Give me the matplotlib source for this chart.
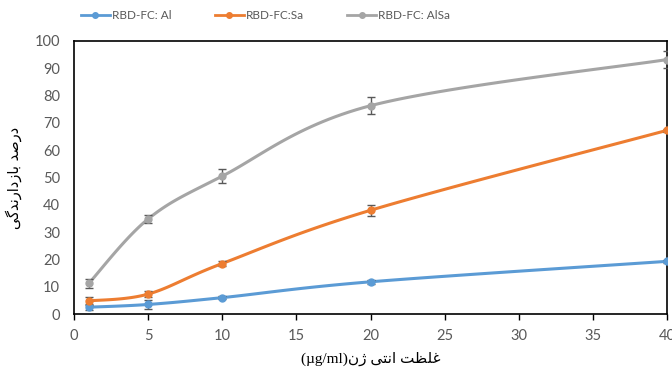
import numpy as np
import matplotlib as mpl
mpl.use('Agg')
import matplotlib.pyplot as plt
from matplotlib.lines import Line2D

plt.rcParams['font.family'] = ['Lato', 'DejaVu Sans']

#--------------------------------------------------------------------------------------------------------
# data

conc = [1, 5, 10, 20, 40]

al     = [2.5, 3.5, 6.0, 11.8, 19.3]
al_err = [1.0, 1.5, 0.5, 0.8, 0.5]

sa     = [4.8, 7.3, 18.5, 38.0, 67.3]
sa_err = [1.5, 1.2, 1.0, 2.0, 0.6]

alsa     = [11.2, 34.8, 50.5, 76.3, 93.2]
alsa_err = [1.5, 1.5, 2.5, 3.0, 3.0]

names = ["RBD-FC: Al", "RBD-FC:Sa", "RBD-FC: AlSa"]
colors = ["#5B9BD5", "#ED7D31", "#A5A5A5"]

# persian labels, written in presentation forms (visual order) since matplotlib has no shaping
ylab = "ﯽﮔﺪﻧﺭﺍﺩﺯﺎﺑ ﺪﺻﺭﺩ"
xlab = "(µg/ml)ﻥﮊ ﯽﺘﻧﺍ ﺖﻈﻠﻏ"

#--------------------------------------------------------------------------------------------------------

def smooth(x, y, sx=15.55, sy=2.73, n=30):
    # excel-like smoothed line: catmull-rom bezier in screen-ish units
    P = np.column_stack((np.asarray(x, float)*sx, np.asarray(y, float)*sy))
    P = np.vstack((P[0], P, P[-1]))
    out = []
    t = np.linspace(0, 1, n)[:, None]
    for i in range(1, len(P)-2):
        p0, p1, p2, p3 = P[i-1], P[i], P[i+1], P[i+2]
        c1 = p1 + (p2 - p0)/6.0
        c2 = p2 - (p3 - p1)/6.0
        seg = (1-t)**3*p1 + 3*(1-t)**2*t*c1 + 3*(1-t)*t**2*c2 + t**3*p2
        out.append(seg)
    out = np.vstack(out)
    return out[:, 0]/sx, out[:, 1]/sy

fig = plt.figure(figsize=(6.72, 3.69), dpi=100)
ax = fig.add_axes([0.110, 0.149, 0.883, 0.740])

series = [(al, al_err), (sa, sa_err), (alsa, alsa_err)]
for (vals, err), c in zip(series, colors):
    xs, ys = smooth(conc, vals)
    ax.plot(xs, ys, color=c, linewidth=2.2, solid_capstyle='round', zorder=2)
    ax.errorbar(conc, vals, yerr=err, fmt='none', ecolor='#595959', elinewidth=1.0,
                capsize=3, capthick=1.0, zorder=3)
    ax.plot(conc, vals, 'o', color=c, markersize=5, zorder=4)

ax.set_xlim(0, 40)
ax.set_ylim(0, 100)
ax.set_xticks(np.arange(0, 41, 5))
ax.set_yticks(np.arange(0, 101, 10))
for s in ax.spines.values():
    s.set_color('black')
    s.set_linewidth(1.2)
ax.tick_params(axis='y', length=0, pad=10, labelsize=10.5, labelcolor='#595959')
ax.tick_params(axis='x', length=4, width=1.0, direction='out', pad=7, labelsize=10.5, labelcolor='#595959')

ax.set_ylabel(ylab, family=['DejaVu Sans'], fontsize=10.5, labelpad=9)
ax.set_xlabel(xlab, family=['Liberation Serif', 'DejaVu Sans'], fontsize=11, labelpad=6)

handles = [Line2D([0], [0], color=c, linewidth=2, marker='o', markersize=4) for c in colors]
fig.legend(handles, names, loc='center', bbox_to_anchor=(0.395, 0.957), ncol=3, frameon=False,
           fontsize=8.5, labelcolor='#595959', columnspacing=3.7, handlelength=2.45, handletextpad=0.15)

plt.savefig("out.png", dpi=100)
